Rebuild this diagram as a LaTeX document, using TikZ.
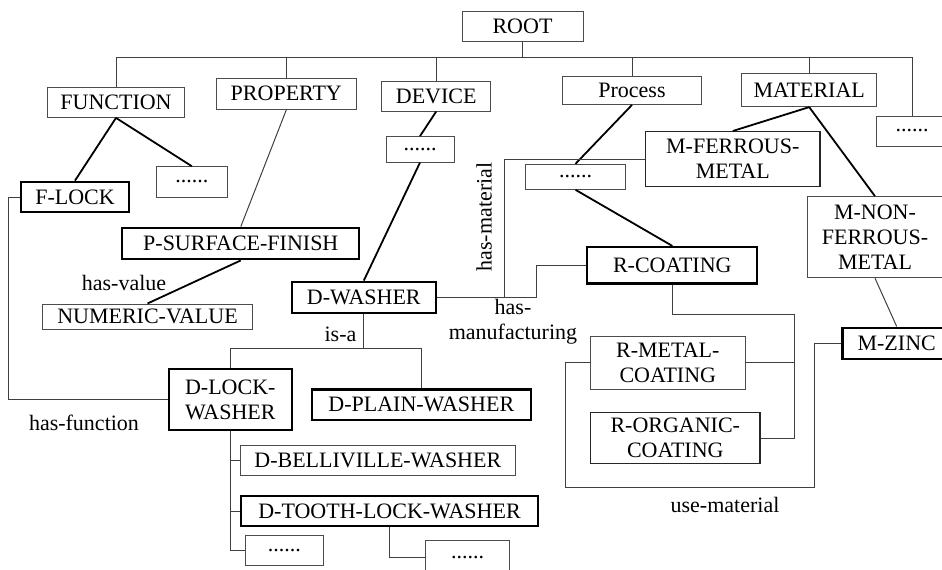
\documentclass[tikz,border=0pt]{standalone}
\usepackage{fontspec}
\setmainfont{Liberation Serif}
\usetikzlibrary{positioning}
\tikzstyle{concept}=[rectangle,
                     draw=black!70,
                     line width=0.5pt,
                     inner sep=0pt,
                     align=center,
                     font=\fontsize{11}{12.5}\selectfont]
\tikzstyle{keyconcept}=[concept, draw=black, line width=1.1pt]
\tikzstyle{link} = [draw, black, line width=0.9pt]
\tikzstyle{treeline} = [draw, black!75, line width=0.5pt]
\tikzstyle{rellabel} = [inner sep=0pt, align=center, font=\fontsize{11}{12.5}\selectfont]

\begin{document}
\begin{tikzpicture}[x=0.5pt,y=-0.5pt]
      % page frame, in pixels of the figure
      \useasboundingbox (0,0) rectangle (942,569);

      \node [concept, minimum width=60.5pt, minimum height=15pt] (root) at (522.5,26) {ROOT};

      \node [concept, minimum width=68.3pt, minimum height=15.2pt] (function) at (116,102.2) {FUNCTION};
      \node [concept, minimum width=69.7pt, minimum height=15.7pt] (property) at (286.3,93.7) {PROPERTY};
      \node [concept, minimum width=54.5pt, minimum height=14.7pt] (device) at (436.2,96.3) {DEVICE};
      \node [concept, minimum width=69.7pt, minimum height=14.2pt] (process) at (632,90.2) {Process};
      \node [concept, minimum width=67.5pt, minimum height=16.8pt] (material) at (809.2,89.8) {MATERIAL};
      \node [concept, minimum width=36pt, minimum height=15pt] (moreroot) at (912,131) {......};

      \node [keyconcept, minimum width=54.3pt, minimum height=15.3pt] (flock) at (75,197) {F-LOCK};
      \node [concept, minimum width=35.2pt, minimum height=15.3pt] (morefunc) at (191.8,182) {......};
      \node [keyconcept, minimum width=118.5pt, minimum height=15.8pt] (psurface) at (240.8,243.5) {P-SURFACE-FINISH};
      \node [concept, minimum width=104.8pt, minimum height=12.7pt] (numeric) at (147.5,316.7) {NUMERIC-VALUE};

      \node [concept, minimum width=34pt, minimum height=12.7pt] (moredev) at (420,149.3) {......};
      \node [keyconcept, minimum width=72.2pt, minimum height=15.5pt] (dwasher) at (363.8,297.2) {D-WASHER};
      \node [keyconcept, minimum width=61.7pt, minimum height=30.5pt] (dlock) at (230.3,399.5) {D-LOCK-\\WASHER};
      \node [keyconcept, minimum width=109.7pt, minimum height=15.3pt] (dplain) at (421.3,404.7) {D-PLAIN-WASHER};
      \node [concept, minimum width=137.2pt, minimum height=14.7pt] (dbell) at (377.8,460.3) {D-BELLIVILLE-WASHER};
      \node [keyconcept, minimum width=148.2pt, minimum height=15pt] (dtooth) at (389.5,511) {D-TOOTH-LOCK-WASHER};
      \node [concept, minimum width=39pt, minimum height=15pt] (morelock) at (284.3,550.3) {......};
      \node [concept, minimum width=42.2pt, minimum height=17pt] (moretooth) at (467.5,557) {......};

      \node [concept, minimum width=49.8pt, minimum height=12.5pt] (moreproc) at (575.5,176.8) {......};
      \node [keyconcept, minimum width=85pt, minimum height=18.2pt] (rcoating) at (672.3,265.2) {R-COATING};
      \node [concept, minimum width=77.2pt, minimum height=26.2pt] (rmetal) at (667.8,362.8) {R-METAL-\\COATING};
      \node [concept, draw=black!85, line width=0.7pt, minimum width=84.7pt, minimum height=25.3pt] (rorganic) at (675.3,438) {R-ORGANIC-\\COATING};

      \node [concept, draw=black!85, line width=0.7pt, minimum width=87.2pt, minimum height=27.5pt] (mferrous) at (732.8,159.2) {M-FERROUS-\\METAL};
      \node [concept, minimum width=67.5pt, minimum height=40.5pt] (mnonferrous) at (875,237.2) {M-NON-\\FERROUS-\\METAL};
      \node [keyconcept, minimum width=54.3pt, minimum height=15.7pt] (mzinc) at (896.7,343.3) {M-ZINC};

      % relation labels
      \node [rellabel] (hasvalue) at (124,283) {has-value};
      \node [rellabel] (hasfunction) at (84,423) {has-function};
      \node [rellabel] (isa) at (340.5,334) {is-a};
      \node [rellabel, rotate=90] (hasmaterial) at (484,217) {has-material};
      \node [rellabel] (hasmanuf) at (513,322) {has-\\manufacturing};
      \node [rellabel] (usematerial) at (725,505) {use-material};

      % taxonomy under ROOT
      \coordinate (rootbus) at (0,57.5);
      \foreach \n in {function,property,device,process,material,moreroot}
        \path [treeline] (root.south) -- (root.south |- rootbus) -| (\n.north);

      \path [link] (function.south) -- (flock.north);
      \path [link] (function.south) -- (morefunc.north);
      \path [treeline] (property.south) -- (psurface.north);
      \path [link] (psurface.south) -- (numeric.north);
      \path [link] (device.south) -- (moredev.north);
      \path [link] (moredev.south) -- (dwasher.north);
      \path [link] (process.south) -- (moreproc.north);
      \path [link] (moreproc.south) -- (rcoating.north);
      \path [link] (material.south) -- (mferrous.north);
      \path [link] (material.south) -- (mnonferrous.north);
      \path [treeline] (mnonferrous.south) -- (mzinc.north);

      % is-a
      \coordinate (isabus) at (0,348.7);
      \foreach \n in {dlock,dplain}
        \path [treeline] (dwasher.south) -- (dwasher.south |- isabus) -| (\n.north);
      \foreach \n in {dbell,dtooth,morelock}
        \path [treeline] (dlock.south) |- (\n.west);
      \path [treeline] (dtooth.south) |- (moretooth.west);

      % relations
      \path [treeline] (flock.west) -- ++(-11.4,0) |- (dlock.west);
      \coordinate (matjoin) at (504.5,297.2);
      \path [treeline] (mferrous.west) -| (matjoin);
      \path [treeline] (dwasher.east) -- (536,297.2) |- (rcoating.west);
      \coordinate (coatjoin) at (794.3,314);
      \path [treeline] (rcoating.south) |- (coatjoin) |- (rorganic.east);
      \path [treeline] (rmetal.east) -- (rmetal.east -| coatjoin);
      \coordinate (usejoin) at (565.7,487.3);
      \path [treeline] (mzinc.west) -- ++(-27.3,0) |- (usejoin) |- (rmetal.west);
\end{tikzpicture}
\end{document}
